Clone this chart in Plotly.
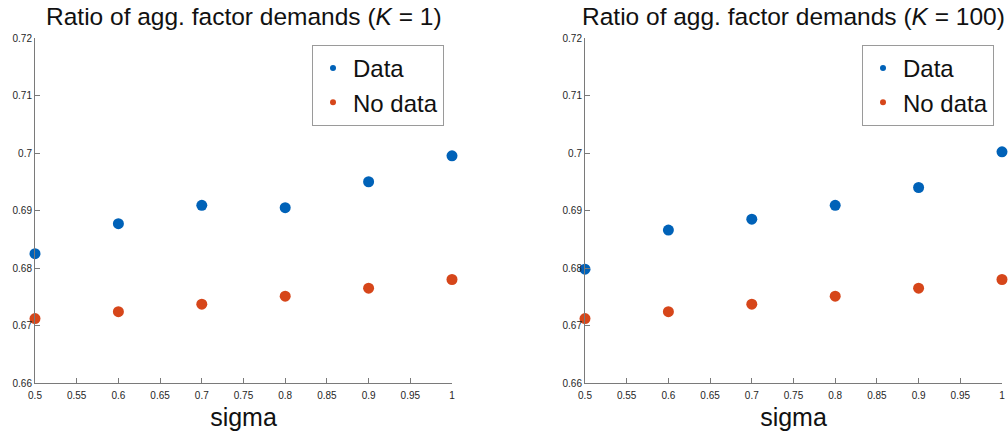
import plotly.graph_objects as go

sigma = [0.5, 0.6, 0.7, 0.8, 0.9, 1.0]
data_k1 = [0.6825, 0.6877, 0.6909, 0.6905, 0.6950, 0.6995]
nodata_k1 = [0.6712, 0.6724, 0.6737, 0.6751, 0.6765, 0.6780]
data_k100 = [0.6798, 0.6866, 0.6885, 0.6909, 0.6940, 0.7002]
nodata_k100 = [0.6712, 0.6724, 0.6737, 0.6751, 0.6765, 0.6780]
x_ticks = [0.5, 0.55, 0.6, 0.65, 0.7, 0.75, 0.8, 0.85, 0.9, 0.95, 1.0]
x_ticklabels = ["0.5", "0.55", "0.6", "0.65", "0.7", "0.75", "0.8", "0.85", "0.9", "0.95", "1"]
y_ticks = [0.66, 0.67, 0.68, 0.69, 0.70, 0.71, 0.72]
y_ticklabels = ["0.66", "0.67", "0.68", "0.69", "0.7", "0.71", "0.72"]
titles = ["Ratio of agg. factor demands (<i>K</i> = 1)", "Ratio of agg. factor demands (<i>K</i> = 100)"]

BLUE = "#0062B8"
RED = "#D6461A"
FONT = "Liberation Sans"

fig = go.Figure()

panels = [(data_k1, nodata_k1, "x", "y", "legend"), (data_k100, nodata_k100, "x2", "y2", "legend2")]
for d, nd, xa, ya, lg in panels:
    fig.add_trace(go.Scatter(x=sigma, y=d, mode="markers", xaxis=xa, yaxis=ya,
                             marker=dict(color=BLUE, size=11), showlegend=False, cliponaxis=False))
    fig.add_trace(go.Scatter(x=sigma, y=nd, mode="markers", xaxis=xa, yaxis=ya,
                             marker=dict(color=RED, size=11), showlegend=False, cliponaxis=False))
    fig.add_trace(go.Scatter(x=[None], y=[None], mode="markers", xaxis=xa, yaxis=ya, name="Data",
                             marker=dict(color=BLUE, size=6), legend=lg))
    fig.add_trace(go.Scatter(x=[None], y=[None], mode="markers", xaxis=xa, yaxis=ya, name="No data",
                             marker=dict(color=RED, size=6), legend=lg))

W, H = 1008, 431
doms = [(35 / W, 452 / W), (585 / W, 1002 / W)]
ydom = (1 - 383 / H, 1 - 38 / H)

axis_common = dict(showgrid=False, zeroline=False, showline=True, linecolor="#7a7a7a", linewidth=1,
                   ticks="inside", ticklen=5, tickcolor="#7a7a7a", automargin=False,
                   tickfont=dict(family=FONT, size=10, color="#262626"))

layout = dict(
    width=W, height=H, margin=dict(l=0, r=0, t=0, b=0, autoexpand=False),
    paper_bgcolor="white", plot_bgcolor="white",
    font=dict(family=FONT, color="#111"),
)
for i, (dx, key) in enumerate(zip(doms, ["", "2"])):
    layout["xaxis" + key] = dict(axis_common, domain=list(dx), range=[0.5, 1.0],
                                 tickvals=x_ticks, ticktext=x_ticklabels, anchor="y" + key,
                                 ticklabelstandoff=3,
                                 title=dict(text="sigma", font=dict(family=FONT, size=25, color="#111"), standoff=8))
    layout["yaxis" + key] = dict(axis_common, domain=list(ydom), range=[0.66, 0.72],
                                 tickvals=y_ticks, ticktext=y_ticklabels, anchor="x" + key)

legend_common = dict(bgcolor="white", bordercolor="#9a9a9a", borderwidth=1,
                     font=dict(family=FONT, size=24, color="#111"), yanchor="top", xanchor="right",
                     itemwidth=30, tracegroupgap=0)
layout["legend"] = dict(legend_common, x=444 / W, y=1 - 45 / H)
layout["legend2"] = dict(legend_common, x=994 / W, y=1 - 45 / H)

fig.update_layout(**layout)

for i, (dx, t) in enumerate(zip(doms, titles)):
    fig.add_annotation(text=t, xref="paper", yref="paper", x=(dx[0] + dx[1]) / 2, y=1 - 16 / H,
                       xanchor="center", yanchor="middle", showarrow=False,
                       font=dict(family=FONT, size=24.5, color="#111"))

fig.write_html("out.html", config={"displayModeBar": False},
               post_script="document.body.style.margin='0';document.body.style.overflow='hidden';")
